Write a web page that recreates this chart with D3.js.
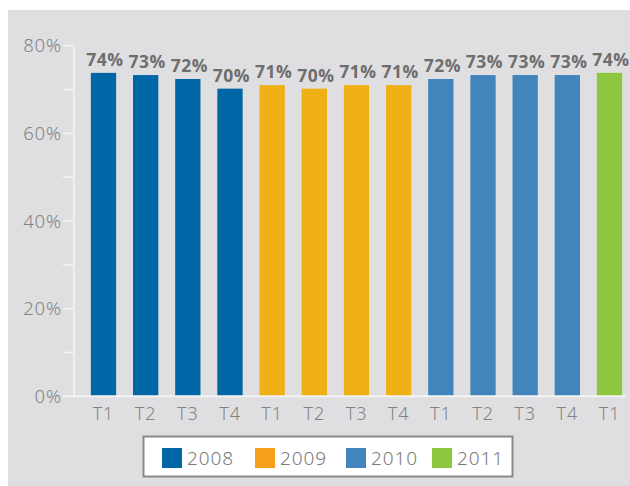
<!DOCTYPE html>
<html>
<head>
<meta charset="utf-8">
<script src="https://cdn.jsdelivr.net/npm/d3@7"></script>
<style>
  html, body { margin: 0; padding: 0; background: #fff; }
  #chart { width: 630px; height: 486px; }
  text { font-family: "Noto Sans", "Open Sans", sans-serif; }
  .light { font-weight: 300; letter-spacing: 0.9px; }
  .value { font-family: "Open Sans", sans-serif; font-weight: 700; letter-spacing: 0.5px; }
</style>
</head>
<body>
<div id="chart"></div>
<script>
// Data
const quarters = ["T1", "T2", "T3", "T4", "T1", "T2", "T3", "T4", "T1", "T2", "T3", "T4", "T1"];
const years = ["2008", "2008", "2008", "2008", "2009", "2009", "2009", "2009", "2010", "2010", "2010", "2010", "2011"];
const values = [73.8, 73.3, 72.4, 70.2, 71.0, 70.2, 71.0, 71.0, 72.4, 73.3, 73.3, 73.3, 73.8];
const yTicks = [0, 20, 40, 60, 80];
const legendYears = ["2008", "2009", "2010", "2011"];

const width = 630, height = 486;

const barColor = d3.scaleOrdinal()
  .domain(legendYears)
  .range(["#0066a6", "#efb015", "#4285bd", "#8dc63f"]);
// legend swatch for 2009 is a bit more orange than the bars
const legendColor = d3.scaleOrdinal()
  .domain(legendYears)
  .range(["#0066a6", "#f59f1b", "#4285bd", "#8dc63f"]);

const svg = d3.select("#chart")
  .append("svg")
  .attr("width", width)
  .attr("height", height);

// grey panel
svg.append("rect")
  .attr("x", 8).attr("y", 10)
  .attr("width", width - 8).attr("height", height - 10)
  .attr("fill", "#dfdfe1");

const x = d3.scaleBand()
  .domain(d3.range(values.length))
  .range([82.4, 630.6])
  .paddingInner(0.4)
  .paddingOuter(0.2);

const y = d3.scaleLinear()
  .domain([0, 80])
  .range([396.3, 45.7]);

// y axis line + ticks every 10%
svg.append("line")
  .attr("x1", 74).attr("x2", 74)
  .attr("y1", y(80)).attr("y2", y(0))
  .attr("stroke", "#f4f4f5").attr("stroke-width", 1.5);

svg.append("g")
  .selectAll("line")
  .data(d3.range(10, 81, 10))
  .join("line")
  .attr("x1", 63).attr("x2", 74)
  .attr("y1", d => y(d)).attr("y2", d => y(d))
  .attr("stroke", "#f4f4f5").attr("stroke-width", 1.5);

svg.append("g")
  .selectAll("text")
  .data(yTicks)
  .join("text")
  .attr("class", "light")
  .attr("x", 62)
  .attr("y", d => y(d))
  .attr("dy", "0.36em")
  .attr("text-anchor", "end")
  .attr("fill", "#838383")
  .style("font-size", "18.5px")
  .text(d => d + "%");

// bars
svg.append("g")
  .selectAll("rect")
  .data(values)
  .join("rect")
  .attr("x", (d, i) => x(i))
  .attr("y", d => y(d))
  .attr("width", x.bandwidth())
  .attr("height", d => y(0) - y(d))
  .attr("fill", (d, i) => barColor(years[i]));

// baseline
svg.append("line")
  .attr("x1", 63).attr("x2", 626)
  .attr("y1", y(0)).attr("y2", y(0))
  .attr("stroke", "#f4f4f5").attr("stroke-width", 2);

// value labels
svg.append("g")
  .selectAll("text")
  .data(values)
  .join("text")
  .attr("class", "value")
  .attr("x", (d, i) => x(i) + x.bandwidth() / 2 + 1.5)
  .attr("y", d => y(d) - 7)
  .attr("text-anchor", "middle")
  .attr("fill", "#6e6e6e")
  .style("font-size", "17.5px")
  .text(d => Math.round(d) + "%");

// quarter labels
svg.append("g")
  .selectAll("text")
  .data(quarters)
  .join("text")
  .attr("class", "light")
  .attr("x", (d, i) => x(i) + x.bandwidth() / 2)
  .attr("y", 413.5)
  .attr("dy", "0.36em")
  .attr("text-anchor", "middle")
  .attr("fill", "#838383")
  .style("font-size", "18px")
  .text(d => d);

// legend
const legend = svg.append("g");
legend.append("rect")
  .attr("x", 143.5).attr("y", 436.5)
  .attr("width", 369).attr("height", 40)
  .attr("fill", "#fff")
  .attr("stroke", "#8a8a8a").attr("stroke-width", 2);

const legendX = [162, 255, 346, 432];
const item = legend.selectAll("g")
  .data(legendYears)
  .join("g")
  .attr("transform", (d, i) => `translate(${legendX[i]},448)`);

item.append("rect")
  .attr("width", 20).attr("height", 20)
  .attr("fill", d => legendColor(d));

item.append("text")
  .attr("class", "light")
  .attr("x", 25).attr("y", 10)
  .attr("dy", "0.36em")
  .attr("fill", "#7a7a7a")
  .style("font-size", "19px")
  .text(d => d);
</script>
</body>
</html>
